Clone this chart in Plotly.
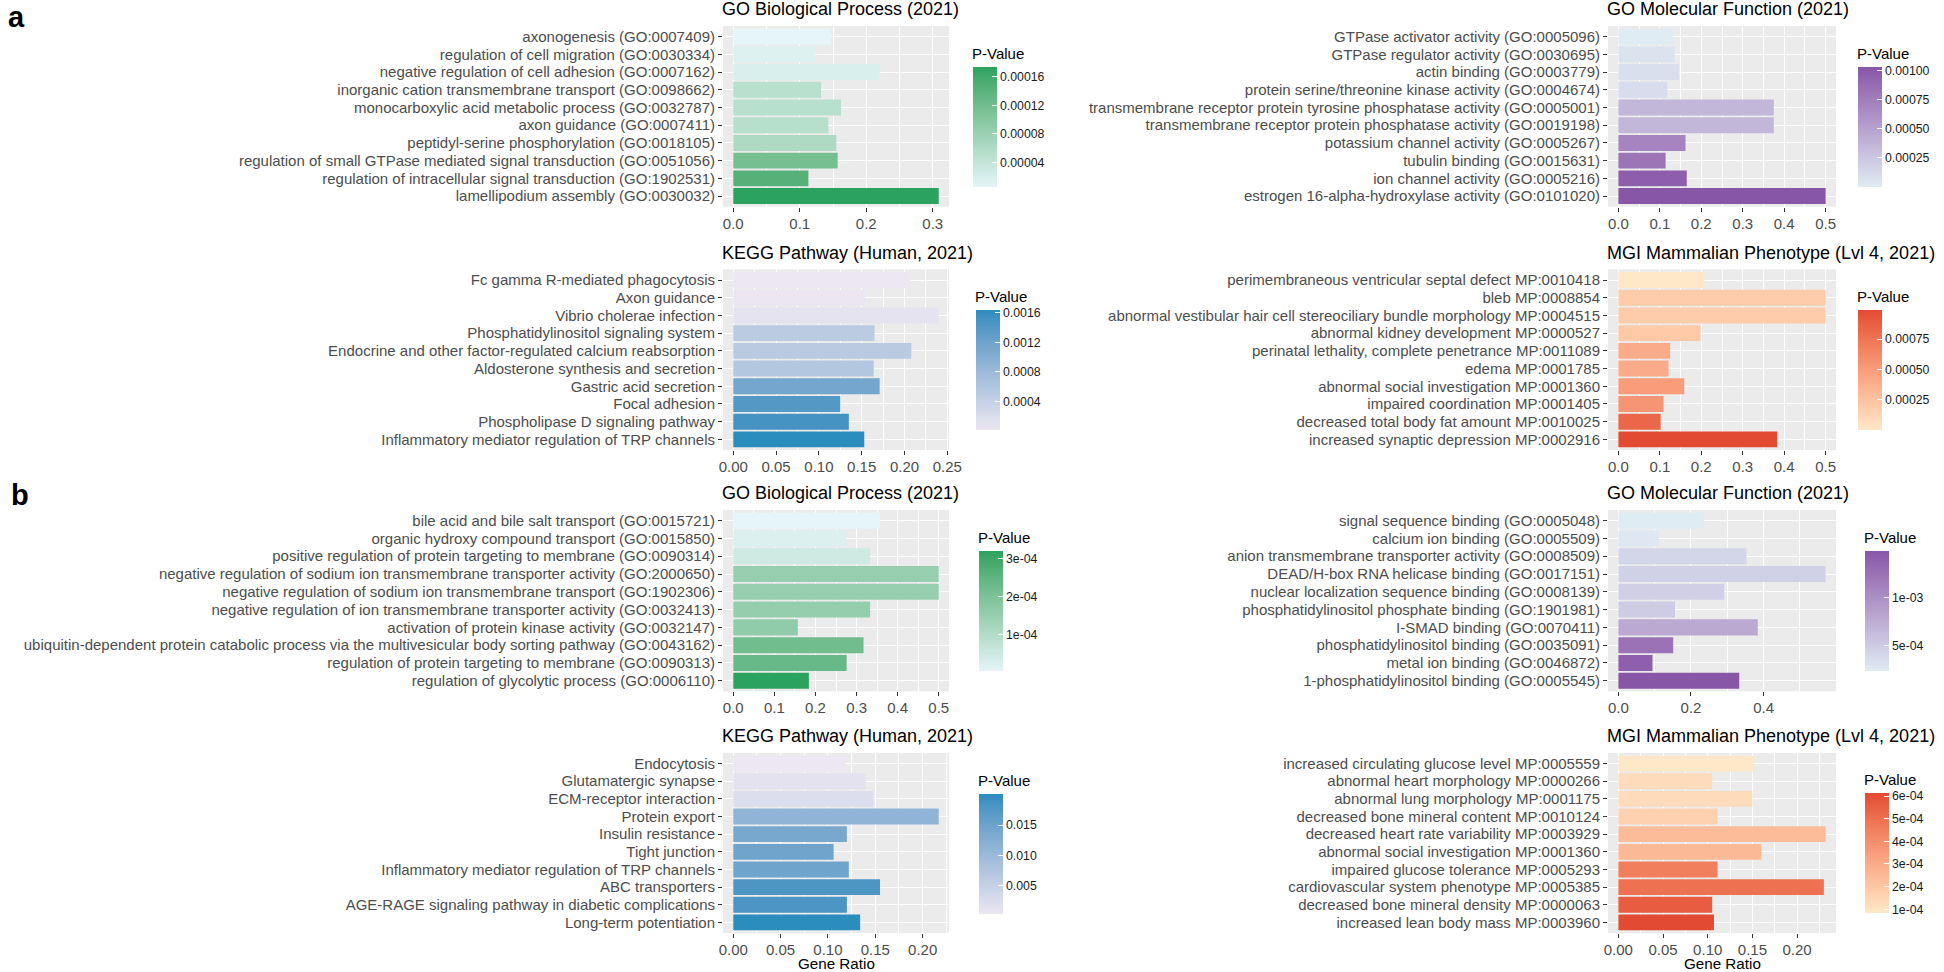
import plotly.graph_objects as go

# ---------------- data ----------------
a_bp_terms = ["axonogenesis (GO:0007409)", "regulation of cell migration (GO:0030334)",
              "negative regulation of cell adhesion (GO:0007162)",
              "inorganic cation transmembrane transport (GO:0098662)",
              "monocarboxylic acid metabolic process (GO:0032787)", "axon guidance (GO:0007411)",
              "peptidyl-serine phosphorylation (GO:0018105)",
              "regulation of small GTPase mediated signal transduction (GO:0051056)",
              "regulation of intracellular signal transduction (GO:1902531)",
              "lamellipodium assembly (GO:0030032)"]
a_bp_ratio = [0.147, 0.123, 0.220, 0.132, 0.162, 0.143, 0.155, 0.157, 0.113, 0.309]
a_bp_p = [5.8e-6, 1.4e-5, 1.8e-5, 4.95e-5, 5.1e-5, 5.3e-5, 6.1e-5, 1.17e-4, 1.44e-4, 1.74e-4]

a_mf_terms = ["GTPase activator activity (GO:0005096)", "GTPase regulator activity (GO:0030695)",
              "actin binding (GO:0003779)", "protein serine/threonine kinase activity (GO:0004674)",
              "transmembrane receptor protein tyrosine phosphatase activity (GO:0005001)",
              "transmembrane receptor protein phosphatase activity (GO:0019198)",
              "potassium channel activity (GO:0005267)", "tubulin binding (GO:0015631)",
              "ion channel activity (GO:0005216)", "estrogen 16-alpha-hydroxylase activity (GO:0101020)"]
a_mf_ratio = [0.131, 0.136, 0.147, 0.118, 0.375, 0.375, 0.162, 0.114, 0.165, 0.5]
a_mf_p = [2e-6, 6.3e-5, 8.3e-5, 1.04e-4, 3.6e-4, 3.6e-4, 7.1e-4, 8.1e-4, 9.7e-4, 1.03e-3]

a_kegg_terms = ["Fc gamma R-mediated phagocytosis", "Axon guidance", "Vibrio cholerae infection",
                "Phosphatidylinositol signaling system",
                "Endocrine and other factor-regulated calcium reabsorption",
                "Aldosterone synthesis and secretion", "Gastric acid secretion", "Focal adhesion",
                "Phospholipase D signaling pathway", "Inflammatory mediator regulation of TRP channels"]
a_kegg_ratio = [0.207, 0.154, 0.240, 0.165, 0.208, 0.164, 0.171, 0.125, 0.135, 0.153]
a_kegg_p = [1e-5, 2e-5, 7e-5, 5e-4, 5.2e-4, 5.7e-4, 1.15e-3, 1.41e-3, 1.51e-3, 1.64e-3]

a_mgi_terms = ["perimembraneous ventricular septal defect MP:0010418", "bleb MP:0008854",
               "abnormal vestibular hair cell stereociliary bundle morphology MP:0004515",
               "abnormal kidney development MP:0000527",
               "perinatal lethality, complete penetrance MP:0011089", "edema MP:0001785",
               "abnormal social investigation MP:0001360", "impaired coordination MP:0001405",
               "decreased total body fat amount MP:0010025", "increased synaptic depression MP:0002916"]
a_mgi_ratio = [0.208, 0.5, 0.5, 0.198, 0.125, 0.121, 0.159, 0.109, 0.102, 0.383]
a_mgi_p = [2e-6, 1.9e-4, 1.9e-4, 2.1e-4, 4e-4, 4e-4, 5e-4, 5.45e-4, 8.3e-4, 9.9e-4]

b_bp_terms = ["bile acid and bile salt transport (GO:0015721)",
              "organic hydroxy compound transport (GO:0015850)",
              "positive regulation of protein targeting to membrane (GO:0090314)",
              "negative regulation of sodium ion transmembrane transporter activity (GO:2000650)",
              "negative regulation of sodium ion transmembrane transport (GO:1902306)",
              "negative regulation of ion transmembrane transporter activity (GO:0032413)",
              "activation of protein kinase activity (GO:0032147)",
              "ubiquitin-dependent protein catabolic process via the multivesicular body sorting pathway (GO:0043162)",
              "regulation of protein targeting to membrane (GO:0090313)",
              "regulation of glycolytic process (GO:0006110)"]
b_bp_ratio = [0.357, 0.275, 0.333, 0.5, 0.5, 0.333, 0.157, 0.317, 0.276, 0.184]
b_bp_p = [5e-6, 2.4e-5, 4.9e-5, 1.54e-4, 1.54e-4, 1.57e-4, 1.63e-4, 2.2e-4, 2.36e-4, 3.21e-4]

b_mf_terms = ["signal sequence binding (GO:0005048)", "calcium ion binding (GO:0005509)",
              "anion transmembrane transporter activity (GO:0008509)",
              "DEAD/H-box RNA helicase binding (GO:0017151)",
              "nuclear localization sequence binding (GO:0008139)",
              "phosphatidylinositol phosphate binding (GO:1901981)", "I-SMAD binding (GO:0070411)",
              "phosphatidylinositol binding (GO:0035091)", "metal ion binding (GO:0046872)",
              "1-phosphatidylinositol binding (GO:0005545)"]
b_mf_ratio = [0.236, 0.111, 0.353, 0.571, 0.292, 0.156, 0.384, 0.151, 0.094, 0.333]
b_mf_p = [2.3e-4, 2.68e-4, 4.2e-4, 4.6e-4, 4.7e-4, 4.95e-4, 7.8e-4, 1.25e-3, 1.41e-3, 1.49e-3]

b_kegg_terms = ["Endocytosis", "Glutamatergic synapse", "ECM-receptor interaction", "Protein export",
                "Insulin resistance", "Tight junction",
                "Inflammatory mediator regulation of TRP channels", "ABC transporters",
                "AGE-RAGE signaling pathway in diabetic complications", "Long-term potentiation"]
b_kegg_ratio = [0.119, 0.140, 0.148, 0.217, 0.120, 0.106, 0.122, 0.155, 0.120, 0.134]
b_kegg_p = [4e-4, 1.4e-3, 2.4e-3, 1.12e-2, 1.38e-2, 1.46e-2, 1.48e-2, 1.79e-2, 1.81e-2, 2.01e-2]

b_mgi_terms = ["increased circulating glucose level MP:0005559", "abnormal heart morphology MP:0000266",
               "abnormal lung morphology MP:0001175", "decreased bone mineral content MP:0010124",
               "decreased heart rate variability MP:0003929", "abnormal social investigation MP:0001360",
               "impaired glucose tolerance MP:0005293", "cardiovascular system phenotype MP:0005385",
               "decreased bone mineral density MP:0000063", "increased lean body mass MP:0003960"]
b_mgi_ratio = [0.151, 0.105, 0.150, 0.111, 0.232, 0.160, 0.111, 0.230, 0.105, 0.107]
b_mgi_p = [8.2e-5, 1.24e-4, 1.3e-4, 1.6e-4, 2.4e-4, 2.5e-4, 4.5e-4, 4.95e-4, 5.6e-4, 6.12e-4]

titles = ["GO Biological Process (2021)", "GO Molecular Function (2021)",
          "KEGG Pathway (Human, 2021)", "MGI Mammalian Phenotype (Lvl 4, 2021)"]

cb_a_bp_vals, cb_a_bp_text = [4e-5, 8e-5, 1.2e-4, 1.6e-4], ["0.00004", "0.00008", "0.00012", "0.00016"]
cb_a_mf_vals, cb_a_mf_text = [2.5e-4, 5e-4, 7.5e-4, 1e-3], ["0.00025", "0.00050", "0.00075", "0.00100"]
cb_a_kegg_vals, cb_a_kegg_text = [4e-4, 8e-4, 1.2e-3, 1.6e-3], ["0.0004", "0.0008", "0.0012", "0.0016"]
cb_a_mgi_vals, cb_a_mgi_text = [2.5e-4, 5e-4, 7.5e-4], ["0.00025", "0.00050", "0.00075"]
cb_b_bp_vals, cb_b_bp_text = [1e-4, 2e-4, 3e-4], ["1e-04", "2e-04", "3e-04"]
cb_b_mf_vals, cb_b_mf_text = [5e-4, 1e-3], ["5e-04", "1e-03"]
cb_b_kegg_vals, cb_b_kegg_text = [0.005, 0.010, 0.015], ["0.005", "0.010", "0.015"]
cb_b_mgi_vals = [1e-4, 2e-4, 3e-4, 4e-4, 5e-4, 6e-4]
cb_b_mgi_text = ["1e-04", "2e-04", "3e-04", "4e-04", "5e-04", "6e-04"]

# ---------------- colour helpers (ggplot-like Lab interpolation) ----------------
def _hex2rgb(h):
    h = h.lstrip('#')
    return [int(h[i:i + 2], 16) / 255 for i in (0, 2, 4)]

def _lin(c):
    return c / 12.92 if c <= 0.04045 else ((c + 0.055) / 1.055) ** 2.4

def _delin(c):
    c = max(0.0, min(1.0, c))
    return 12.92 * c if c <= 0.0031308 else 1.055 * c ** (1 / 2.4) - 0.055

WHITE = (0.95047, 1.0, 1.08883)

def _to_lab(hx):
    r, g, b = [_lin(c) for c in _hex2rgb(hx)]
    X = 0.4124 * r + 0.3576 * g + 0.1805 * b
    Y = 0.2126 * r + 0.7152 * g + 0.0722 * b
    Z = 0.0193 * r + 0.1192 * g + 0.9505 * b
    def f(t):
        return t ** (1 / 3) if t > 0.008856 else 7.787 * t + 16 / 116
    fx, fy, fz = f(X / WHITE[0]), f(Y / WHITE[1]), f(Z / WHITE[2])
    return (116 * fy - 16, 500 * (fx - fy), 200 * (fy - fz))

def _from_lab(L, a, b):
    fy = (L + 16) / 116
    fx = fy + a / 500
    fz = fy - b / 200
    def finv(t):
        return t ** 3 if t ** 3 > 0.008856 else (t - 16 / 116) / 7.787
    X, Y, Z = finv(fx) * WHITE[0], finv(fy) * WHITE[1], finv(fz) * WHITE[2]
    r = 3.2406 * X - 1.5372 * Y - 0.4986 * Z
    g = -0.9689 * X + 1.8758 * Y + 0.0415 * Z
    bb = 0.0557 * X - 0.2040 * Y + 1.0570 * Z
    return 'rgb(%d,%d,%d)' % tuple(round(_delin(c) * 255) for c in (r, g, bb))

def lab_scale(low, high, n=21):
    l1, l2 = _to_lab(low), _to_lab(high)
    out = []
    for i in range(n):
        t = i / (n - 1)
        out.append([t, _from_lab(*[l1[k] + (l2[k] - l1[k]) * t for k in range(3)])])
    return out

GREEN = lab_scale("#E5F5F9", "#2CA25F")
PURPLE = lab_scale("#E0ECF4", "#8856A7")
BLUE = lab_scale("#ECE7F2", "#2B8CBE")
ORANGE = lab_scale("#FEE8C8", "#E34A33")

# ---------------- layout geometry (pixels) ----------------
W, H = 1944, 972
LEFT_X = (723, 949)
RIGHT_X = (1608, 1836)
ROWS_Y = [(26, 206.7), (269.4, 450), (510, 691.4), (753, 933)]

panels = [
    # terms, ratio, p, title, scale, xcol, row, dtick, fmt, cbvals, cbtext, cbx, cbyc
    (a_bp_terms, a_bp_ratio, a_bp_p, titles[0], GREEN, LEFT_X, 0, 0.1, ".1f", cb_a_bp_vals, cb_a_bp_text, 972.6, 126.7),
    (a_mf_terms, a_mf_ratio, a_mf_p, titles[1], PURPLE, RIGHT_X, 0, 0.1, ".1f", cb_a_mf_vals, cb_a_mf_text, 1857.9, 126.7),
    (a_kegg_terms, a_kegg_ratio, a_kegg_p, titles[2], BLUE, LEFT_X, 1, 0.05, ".2f", cb_a_kegg_vals, cb_a_kegg_text, 975.8, 370),
    (a_mgi_terms, a_mgi_ratio, a_mgi_p, titles[3], ORANGE, RIGHT_X, 1, 0.1, ".1f", cb_a_mgi_vals, cb_a_mgi_text, 1857.9, 370),
    (b_bp_terms, b_bp_ratio, b_bp_p, titles[0], GREEN, LEFT_X, 2, 0.1, ".1f", cb_b_bp_vals, cb_b_bp_text, 979.3, 611),
    (b_mf_terms, b_mf_ratio, b_mf_p, titles[1], PURPLE, RIGHT_X, 2, 0.2, ".1f", cb_b_mf_vals, cb_b_mf_text, 1865, 611),
    (b_kegg_terms, b_kegg_ratio, b_kegg_p, titles[2], BLUE, LEFT_X, 3, 0.05, ".2f", cb_b_kegg_vals, cb_b_kegg_text, 979.3, 854),
    (b_mgi_terms, b_mgi_ratio, b_mgi_p, titles[3], ORANGE, RIGHT_X, 3, 0.05, ".2f", cb_b_mgi_vals, cb_b_mgi_text, 1865, 853.3),
]

FONT = "Liberation Sans, Arial, Helvetica, sans-serif"
TICKCOL = "#4D4D4D"

fig = go.Figure()
layout = dict(width=W, height=H, autosize=False, margin=dict(l=0, r=0, t=0, b=0),
              paper_bgcolor="white", plot_bgcolor="#EBEBEB",
              font=dict(family=FONT, size=15, color="black"), showlegend=False,
              bargap=0.1)
annotations = []

for i, (terms, ratio, pv, title, cs, xcol, row, dtick, fmt, cbv, cbt, cbx, cbyc) in enumerate(panels):
    k = i + 1
    xa = "x" if k == 1 else "x%d" % k
    ya = "y" if k == 1 else "y%d" % k
    xd = [xcol[0] / W, xcol[1] / W]
    y0, y1 = ROWS_Y[row]
    yd = [1 - y1 / H, 1 - y0 / H]
    mx = max(ratio)
    fig.add_trace(go.Bar(
        x=ratio, y=terms, orientation="h", xaxis=xa, yaxis=ya, width=0.9,
        marker=dict(color=pv, colorscale=cs, cmin=min(pv), cmax=max(pv), showscale=True,
                    line=dict(width=0),
                    colorbar=dict(x=cbx / W, xanchor="left", xpad=0, y=1 - cbyc / H,
                                  yanchor="middle", ypad=0, len=120, lenmode="pixels",
                                  thickness=24, thicknessmode="pixels", outlinewidth=0,
                                  tickvals=cbv, ticktext=cbt, ticks="inside",
                                  tickcolor="white", ticklen=5, tickwidth=1,
                                  tickfont=dict(size=12.3, color="#1a1a1a", family=FONT))),
        hoverinfo="x+y"))
    xkey = "xaxis" if k == 1 else "xaxis%d" % k
    ykey = "yaxis" if k == 1 else "yaxis%d" % k
    layout[xkey] = dict(domain=xd, anchor=ya, range=[-0.05 * mx, 1.05 * mx],
                        tick0=0, dtick=dtick, tickformat=fmt, showgrid=True,
                        gridcolor="white", gridwidth=1.3, zeroline=False, showline=False,
                        ticks="outside", ticklen=4, tickwidth=1.1, tickcolor="#333333",
                        ticklabelstandoff=-1,
                        tickfont=dict(size=15, color=TICKCOL), automargin=False,
                        minor=dict(dtick=dtick / 2, tick0=0, showgrid=True,
                                   gridcolor="white", gridwidth=0.65, ticks=""))
    layout[ykey] = dict(domain=yd, anchor=xa, type="category", categoryorder="array",
                        categoryarray=terms, range=[9.6, -0.6], showgrid=True,
                        tickmode="array", tickvals=terms, ticktext=terms,
                        gridcolor="white", gridwidth=1.3, zeroline=False, showline=False,
                        ticks="outside", ticklen=4, tickwidth=1.1, tickcolor="#333333",
                        tickfont=dict(size=15, color=TICKCOL), automargin=False)
    # panel title (left-aligned with the panel)
    annotations.append(dict(text=title, x=(xcol[0] - 1) / W, y=1 - (y0 - 16.7) / H, xref="paper",
                            yref="paper", xanchor="left", yanchor="middle", showarrow=False,
                            borderpad=0, borderwidth=0,
                            font=dict(size=18, color="black", family=FONT)))
    # legend title
    annotations.append(dict(text="P-Value", x=(cbx - 1) / W, y=1 - (cbyc - 60 - 13.4) / H,
                            xref="paper", yref="paper", xanchor="left", yanchor="middle",
                            showarrow=False, borderpad=0, borderwidth=0,
                            font=dict(size=15, color="black", family=FONT)))
    if row == 3:
        annotations.append(dict(text="Gene Ratio", x=(xcol[0] + xcol[1]) / 2 / W,
                                y=1 - 971.5 / H, xref="paper", yref="paper", xanchor="center",
                                yanchor="bottom", showarrow=False, borderpad=0, borderwidth=0,
                                font=dict(size=15.2, color="black", family=FONT)))

annotations.append(dict(text="<b>a</b>", x=16 / W, y=1 - 17 / H, xref="paper", yref="paper",
                        xanchor="center", yanchor="middle", showarrow=False,
                        font=dict(size=29, color="black", family=FONT)))
annotations.append(dict(text="<b>b</b>", x=20 / W, y=1 - 495 / H, xref="paper", yref="paper",
                        xanchor="center", yanchor="middle", showarrow=False,
                        font=dict(size=29, color="black", family=FONT)))

layout["annotations"] = annotations
fig.update_layout(**layout)
# remove the default 8px page margin so the figure starts at the window's top-left corner
fig.write_html("out.html", config={"displayModeBar": False},
               post_script="document.body.style.margin='0';document.body.style.overflow='hidden';")
